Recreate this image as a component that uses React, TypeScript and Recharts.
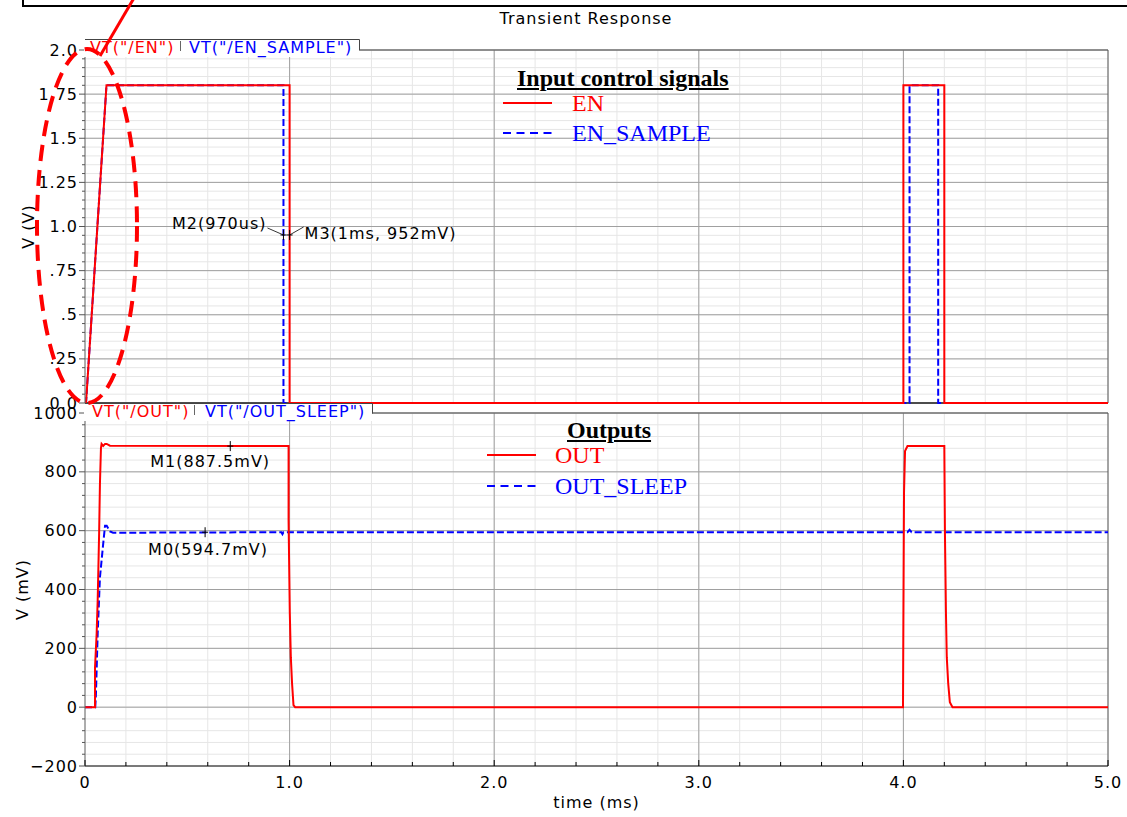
import React from 'react';
import { LineChart, Line, XAxis, YAxis, CartesianGrid, ReferenceDot } from 'recharts';

// axis ticks
const timeMajor = [0, 1, 2, 3, 4, 5];
const timeLabels = ['0', '1.0', '2.0', '3.0', '4.0', '5.0'];

const voltMajor = [0, 0.25, 0.5, 0.75, 1, 1.25, 1.5, 1.75, 2];
const voltLabels = ['0.0', '.25', '.5', '.75', '1.0', '1.25', '1.5', '1.75', '2.0'];

const mvMajor = [-200, 0, 200, 400, 600, 800, 1000];
const mvLabels = ['\u2212200', '0', '200', '400', '600', '800', '1000'];

// EN (V)
const enTime = [0, 0.005, 0.105, 1.0, 1.0, 4.0, 4.0, 4.2, 4.2, 5.0];
const enVolt = [0, 0, 1.8, 1.8, 0, 0, 1.8, 1.8, 0, 0];

// EN_SAMPLE (V)
const enSampleTime = [0, 0.005, 0.105, 0.97, 0.97, 4.03, 4.03, 4.17, 4.17, 5.0];
const enSampleVolt = [0, 0, 1.8, 1.8, 0, 0, 1.8, 1.8, 0, 0];

// OUT (mV)
const outTime = [
  0, 0.049, 0.049, 0.057, 0.062, 0.069, 0.073, 0.078, 0.081, 0.089, 0.098, 0.106, 0.122,
  0.995, 0.995, 1.001, 1.006, 1.012, 1.019, 1.027,
  3.998, 3.999, 4.003, 4.008, 4.02, 4.2, 4.203, 4.208, 4.212, 4.219, 4.227, 4.24, 5.0,
];
const outVolt = [
  0, 0, 136, 251, 363, 590, 759, 881, 895, 888, 895, 895, 889,
  887.5, 635, 319, 170, 81, 7, 0,
  0, 150, 729, 871, 887.5, 887.5, 593, 319, 170, 81, 17, 0, 0,
];

// OUT_SLEEP (mV)
const sleepTime = [0, 0.05, 0.053, 0.062, 0.073, 0.089, 0.098, 0.106, 0.122, 0.137, 0.96, 0.965, 0.97, 4.02, 4.03, 4.04, 5.0];
const sleepVolt = [0, 0, 34, 251, 441, 556, 617, 617, 597, 593, 594.7, 588, 594.7, 594.7, 603, 594.7, 594.7];

// markers
const topMarkerNames = ['M2(970us)', 'M3(1ms, 952mV)'];
const topMarkerTime = [0.97, 1.0];
const topMarkerVolt = [0.952, 0.952];
const outMarkerNames = ['M1(887.5mV)', 'M0(594.7mV)'];
const outMarkerTime = [0.71, 0.587];
const outMarkerVolt = [887.5, 594.7];

const RED = '#ff0000';
const BLUE = '#0000ff';

const zip = (ts: number[], vs: number[]) => ts.map((t, i) => ({ t, v: vs[i] }));
const enData = zip(enTime, enVolt);
const enSampleData = zip(enSampleTime, enSampleVolt);
const outData = zip(outTime, outVolt);
const sleepData = zip(sleepTime, sleepVolt);

const subdivide = (majors: number[], n: number) => {
  const out: number[] = [];
  for (let i = 0; i < majors.length - 1; i++) {
    const step = (majors[i + 1] - majors[i]) / n;
    for (let k = 0; k < n; k++) out.push(majors[i] + k * step);
  }
  out.push(majors[majors.length - 1]);
  return out;
};

const timeMinor = subdivide(timeMajor, 5);
const voltMinor = subdivide(voltMajor, 5);
const mvMinor = subdivide(mvMajor, 5);

const findMajor = (majors: number[], v: number) => majors.findIndex((m) => Math.abs(m - v) < 1e-6);

const tickFont: React.CSSProperties = { fontFamily: 'DejaVu Sans', fontSize: 16, letterSpacing: 1, fill: '#000' };

const hGen = (values: number[], domain: number[]) => (p: any) =>
  values.map((v) =>
    p.yAxis && typeof p.yAxis.scale === 'function'
      ? p.yAxis.scale(v)
      : p.offset.top + ((domain[1] - v) / (domain[1] - domain[0])) * p.offset.height
  );
const vGen = (values: number[], domain: number[]) => (p: any) =>
  values.map((v) =>
    p.xAxis && typeof p.xAxis.scale === 'function'
      ? p.xAxis.scale(v)
      : p.offset.left + ((v - domain[0]) / (domain[1] - domain[0])) * p.offset.width
  );

const makeYTick = (majors: number[], labels: string[]) => (props: any) => {
  const { x, y, payload } = props;
  const idx = findMajor(majors, payload.value);
  return (
    <g>
      <line x1={x - (idx >= 0 ? 6 : 3)} x2={x} y1={y} y2={y} stroke="#555" />
      {idx >= 0 && (
        <text x={x - 7} y={y} textAnchor="end" dominantBaseline="central" style={tickFont}>
          {labels[idx]}
        </text>
      )}
    </g>
  );
};

const XTick = (props: any) => {
  const { x, y, payload } = props;
  const idx = findMajor(timeMajor, payload.value);
  return (
    <g>
      <line x1={x} x2={x} y1={y} y2={y - (idx >= 0 ? 6 : 4)} stroke="#000" />
      {idx >= 0 && (
        <text x={x} y={y + 16} textAnchor="middle" dominantBaseline="central" style={tickFont}>
          {timeLabels[idx]}
        </text>
      )}
    </g>
  );
};

// marker: small cross + label at offset, optional leader line
const markerShape = (name: string, tx: number, ty: number, anchor: 'start' | 'end', leader?: number[]) => (props: any) => {
  const { cx, cy } = props;
  return (
    <g>
      <line x1={cx} x2={cx} y1={cy - 5} y2={cy + 5} stroke="#000" strokeWidth={1} />
      <line x1={cx - 3} x2={cx + 3} y1={cy} y2={cy} stroke="#000" strokeWidth={1} />
      {leader && <line x1={cx + leader[0]} y1={cy + leader[1]} x2={cx} y2={cy} stroke="#000" strokeWidth={0.8} />}
      <text x={cx + tx} y={cy + ty} textAnchor={anchor} dominantBaseline="central" style={tickFont}>
        {name}
      </text>
    </g>
  );
};

const labelFont = { fontFamily: 'DejaVu Sans', fontSize: 16, letterSpacing: 1, fill: '#000', textAnchor: 'middle' as const };
const serif = "'Liberation Serif', 'Times New Roman', serif";

const LegendRow = ({ x1, x2, y, textLeft, color, dashed, name }: any) => (
  <>
    <svg style={{ position: 'absolute', left: 0, top: 0, overflow: 'visible' }} width={1} height={1}>
      <line x1={x1} x2={x2} y1={y} y2={y} stroke={color} strokeWidth={2} strokeDasharray={dashed ? '8 5.5' : undefined} />
    </svg>
    <div style={{ position: 'absolute', left: textLeft, top: y - 13, lineHeight: '26px', fontFamily: serif, fontSize: 24, color, whiteSpace: 'nowrap' }}>
      {name}
    </div>
  </>
);

const LegendTitle = ({ left, cy, text }: any) => (
  <div style={{ position: 'absolute', left, top: cy - 13, lineHeight: '26px', fontFamily: serif, fontSize: 24, fontWeight: 'bold', textDecoration: 'underline', color: '#000', whiteSpace: 'nowrap' }}>
    {text}
  </div>
);

const App: React.FC = () => {
  return (
    <div style={{ position: 'absolute', left: 0, top: 0, width: 1127, height: 817, background: '#fff', overflow: 'hidden' }}>
      {/* top panel: input control signals */}
      <div style={{ position: 'absolute', left: 0, top: 0 }}>
        <LineChart width={1127} height={420} margin={{ top: 50, right: 19, bottom: 17, left: 0 }}>
          <CartesianGrid stroke="#e6e6e6" horizontalCoordinatesGenerator={hGen(voltMinor, [0, 2])} verticalCoordinatesGenerator={vGen(timeMinor, [0, 5])} />
          <CartesianGrid stroke="#a0a0a0" horizontalCoordinatesGenerator={hGen(voltMajor, [0, 2])} verticalCoordinatesGenerator={vGen(timeMajor.slice(1, -1), [0, 5])} />
          <CartesianGrid stroke="#555" horizontalCoordinatesGenerator={hGen([2], [0, 2])} verticalCoordinatesGenerator={vGen([5], [0, 5])} />
          <CartesianGrid stroke="#222" strokeWidth={1.5} vertical={false} horizontalCoordinatesGenerator={hGen([0], [0, 2])} />
          <XAxis type="number" dataKey="t" domain={[0, 5]} hide allowDataOverflow />
          <YAxis
            type="number"
            domain={[0, 2]}
            ticks={voltMinor}
            interval={0}
            width={85}
            tickSize={0}
            tickMargin={0}
            tickLine={false}
            tick={makeYTick(voltMajor, voltLabels)}
            axisLine={{ stroke: '#666' }}
            label={{ value: 'V (V)', angle: -90, position: 'insideLeft', offset: 28, style: labelFont }}
          />
          <Line data={enSampleData} dataKey="v" type="linear" stroke={BLUE} strokeWidth={2} strokeDasharray="7 3" dot={false} isAnimationActive={false} />
          <Line data={enData} dataKey="v" type="linear" stroke={RED} strokeWidth={2} dot={false} isAnimationActive={false} />
          <ReferenceDot x={topMarkerTime[0]} y={topMarkerVolt[0]} r={3} shape={markerShape(topMarkerNames[0], -17, -11, 'end', [-16, -7])} />
          <ReferenceDot x={topMarkerTime[1]} y={topMarkerVolt[1]} r={3} shape={markerShape(topMarkerNames[1], 15, -1, 'start', [14, -8])} />
        </LineChart>
      </div>

      {/* bottom panel: outputs */}
      <div style={{ position: 'absolute', left: 0, top: 403 }}>
        <LineChart width={1127} height={414} margin={{ top: 10, right: 19, bottom: 0, left: 0 }}>
          <CartesianGrid stroke="#e6e6e6" horizontalCoordinatesGenerator={hGen(mvMinor, [-200, 1000])} verticalCoordinatesGenerator={vGen(timeMinor, [0, 5])} />
          <CartesianGrid stroke="#a0a0a0" horizontalCoordinatesGenerator={hGen(mvMajor.slice(1), [-200, 1000])} verticalCoordinatesGenerator={vGen(timeMajor.slice(1, -1), [0, 5])} />
          <CartesianGrid stroke="#555" horizontalCoordinatesGenerator={hGen([1000], [-200, 1000])} verticalCoordinatesGenerator={vGen([5], [0, 5])} />
          <XAxis
            type="number"
            dataKey="t"
            domain={[0, 5]}
            allowDataOverflow
            ticks={timeMinor}
            interval={0}
            height={51}
            tickSize={0}
            tickMargin={0}
            tickLine={false}
            tick={XTick}
            axisLine={{ stroke: '#000' }}
            label={{ value: 'time (ms)', position: 'insideBottom', offset: 9, style: labelFont }}
          />
          <YAxis
            type="number"
            domain={[-200, 1000]}
            ticks={mvMinor}
            interval={0}
            width={85}
            tickSize={0}
            tickMargin={0}
            tickLine={false}
            tick={makeYTick(mvMajor, mvLabels)}
            axisLine={{ stroke: '#666' }}
            label={{ value: 'V (mV)', angle: -90, position: 'insideLeft', offset: 22, style: labelFont }}
          />
          <Line data={sleepData} dataKey="v" type="linear" stroke={BLUE} strokeWidth={2} strokeDasharray="7 3" dot={false} isAnimationActive={false} />
          <Line data={outData} dataKey="v" type="linear" stroke={RED} strokeWidth={2} dot={false} isAnimationActive={false} />
          <ReferenceDot x={outMarkerTime[0]} y={outMarkerVolt[0]} r={3} shape={markerShape(outMarkerNames[0], -80, 15, 'start')} />
          <ReferenceDot x={outMarkerTime[1]} y={outMarkerVolt[1]} r={3} shape={markerShape(outMarkerNames[1], -57, 17, 'start')} />
        </LineChart>
      </div>

      {/* frame, tabs, title and hand-drawn annotation */}
      <svg style={{ position: 'absolute', left: 0, top: 0, pointerEvents: 'none' }} width={1127} height={817}>
        <rect x={23} y={-10} width={1200} height={16} fill="none" stroke="#000" strokeWidth={2} />
        <text x={586} y={18} textAnchor="middle" dominantBaseline="central" style={tickFont}>Transient Response</text>

        <rect x={84} y={40} width={275} height={17} fill="#fff" />
        <path d="M85,39.5 H359.5 V50" fill="none" stroke="#444" strokeWidth={1} />
        <text x={90} y={47} dominantBaseline="central" style={{ ...tickFont, fill: RED }}>VT("/EN")</text>
        <line x1={180.5} x2={180.5} y1={41} y2={51} stroke="#666" />
        <text x={189} y={47} dominantBaseline="central" style={{ ...tickFont, fill: BLUE }}>VT("/EN_SAMPLE")</text>

        <rect x={84} y={404} width={288} height={17} fill="#fff" />
        <path d="M85,403.5 H372.5 V413.5" fill="none" stroke="#444" strokeWidth={1} />
        <text x={92} y={411} dominantBaseline="central" style={{ ...tickFont, fill: RED }}>VT("/OUT")</text>
        <line x1={194.5} x2={194.5} y1={405} y2={415} stroke="#666" />
        <text x={205} y={411} dominantBaseline="central" style={{ ...tickFont, fill: BLUE }}>VT("/OUT_SLEEP")</text>

        <ellipse cx={87} cy={226} rx={50} ry={177} fill="none" stroke={RED} strokeWidth={4} strokeDasharray="16 9" />
        <line x1={134} y1={-2} x2={100} y2={56} stroke={RED} strokeWidth={3} />
      </svg>

      {/* legends */}
      <LegendTitle left={517} cy={78} text="Input control signals" />
      <LegendRow x1={503} x2={552} y={103} textLeft={572} color={RED} name="EN" />
      <LegendRow x1={503} x2={552} y={133} textLeft={572} color={BLUE} dashed name="EN_SAMPLE" />

      <LegendTitle left={567} cy={430} text="Outputs" />
      <LegendRow x1={487} x2={536} y={455} textLeft={555} color={RED} name="OUT" />
      <LegendRow x1={487} x2={536} y={486} textLeft={555} color={BLUE} dashed name="OUT_SLEEP" />
    </div>
  );
};

export default App;
